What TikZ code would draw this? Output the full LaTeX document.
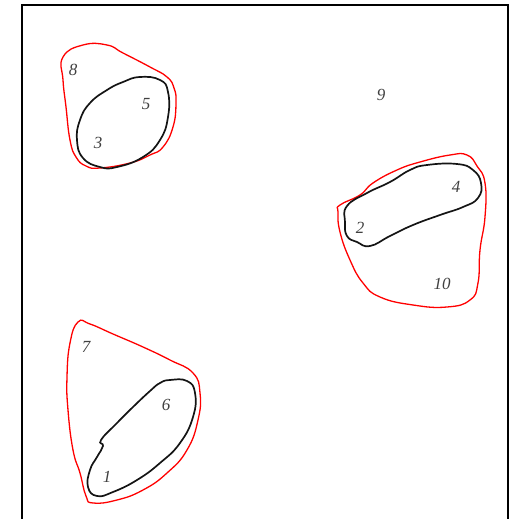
\documentclass[tikz,border=0pt]{standalone}
\usepackage{fontspec}
\setmainfont{Liberation Serif}
\usetikzlibrary{positioning}
\definecolor{Hull}{RGB}{255,0,0}
\definecolor{Ink}{RGB}{20,20,20}

\begin{document}
\begin{tikzpicture}[x=1pt,y=-1pt,
 num/.style={font=\fontsize{17}{17}\selectfont\itshape,text=black!75,inner sep=0pt},
 hull/.style={draw=Hull,line width=1.3pt},
 blob/.style={draw=Ink,line width=1.7pt}]
\useasboundingbox (0,0) rectangle (523,519);
\draw[line width=1.6pt] (22,519) -- (22,5) -- (508,5) -- (508,519);
\node[num] (n8) at (73,70) {8};
\node[num] (n5) at (146,104) {5};
\node[num] (n3) at (98,143) {3};
\node[num] (n9) at (381,95) {9};
\node[num] (n4) at (456,187) {4};
\node[num] (n2) at (360,228) {2};
\node[num] (n10) at (442,284) {10};
\node[num] (n7) at (86,347) {7};
\node[num] (n6) at (166,405) {6};
\node[num] (n1) at (107,477) {1};
\draw[hull] plot[smooth cycle,tension=.8] coordinates {(63,57) (83,45) (107,45) (123,53) (150,67) (167,77) (174,88) (176,103) (173,127) (163,147) (150,155) (130,163) (100,168) (86,166) (76,157) (70,140) (66,107) (63,80)};
\draw[blob] plot[smooth cycle,tension=.8] coordinates {(140,77) (160,80) (168,92) (168,117) (160,140) (143,157) (117,167) (100,167) (83,158) (77,140) (80,120) (90,103) (107,90) (123,82)};
\draw[hull] plot[smooth cycle,tension=.8] coordinates {(340,205) (360,195) (373,183) (397,170) (420,162) (450,155) (467,155) (477,166) (485,183) (485,217) (480,250) (478,283) (470,300) (447,307) (413,305) (380,297) (363,283) (350,260) (340,232) (338,212)};
\draw[blob] plot[smooth cycle,tension=.8] coordinates {(347,206) (367,193) (390,182) (410,170) (427,165) (457,164) (473,170) (481,183) (478,198) (463,207) (440,215) (413,225) (390,236) (370,246) (357,242) (347,236) (345,222)};
\draw[hull] plot[smooth cycle,tension=.8] coordinates {(78,322) (90,324) (113,334) (143,347) (170,360) (193,373) (200,393) (198,420) (187,450) (167,473) (143,490) (117,500) (93,503) (86,496) (80,473) (73,450) (68,410) (67,377) (70,343)};
\draw[blob] plot[smooth cycle,tension=.8] coordinates {(170,380) (187,381) (195,393) (193,417) (180,443) (160,463) (137,480) (113,492) (97,496) (88,487) (90,470) (97,457) (103,446) (101,440) (117,423) (133,407) (150,391) (160,383)};
\end{tikzpicture}
\end{document}
